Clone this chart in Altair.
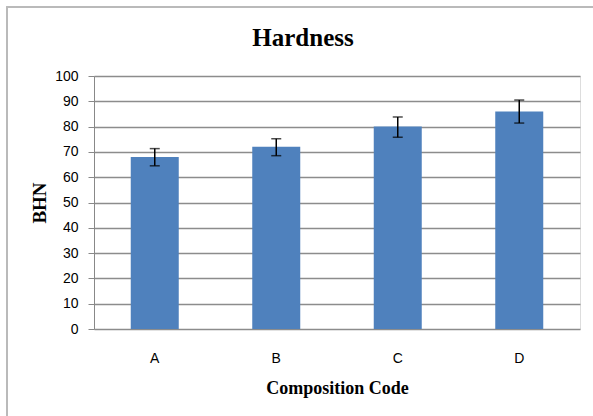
import altair as alt
import pandas as pd

codes = ["A", "B", "C", "D"]
hardness = [68, 72, 80, 86]
err_low = [64.5, 68.5, 75.8, 81.4]
err_high = [71.3, 75.2, 83.8, 90.5]
title_text = ["Hardness"]

df = pd.DataFrame({"code": codes, "bhn": hardness, "lo": err_low, "hi": err_high})

W, H = 486, 253
LABEL_FONT = "Liberation Sans"
TITLE_FONT = "Liberation Serif"

x_axis = alt.Axis(labelAngle=0, ticks=False, domain=False, labelPadding=22,
                  labelFont=LABEL_FONT, labelFontSize=14, labelColor="#000",
                  titleFont=TITLE_FONT, titleFontSize=18, titleFontWeight="bold",
                  titleColor="#000", titleY=64, titleBaseline="alphabetic")
y_axis = alt.Axis(values=list(range(0, 101, 10)), tickSize=6, tickColor="#888",
                  domainColor="#888", gridColor="#8c8c8c", gridWidth=1.3,
                  labelOverlap=False,
                  labelFont=LABEL_FONT, labelFontSize=14, labelColor="#000",
                  labelPadding=10,
                  titleFont=TITLE_FONT, titleFontSize=19, titleFontWeight="bold",
                  titleColor="#000", titleX=-55, titleBaseline="middle")

xs = alt.Scale(paddingInner=0.6, paddingOuter=0.3)
ys = alt.Scale(domain=[0, 100])

def X():
    return alt.X("code:N", title="Composition Code", scale=xs, axis=x_axis)

def Y(field):
    return alt.Y(field, title="BHN", scale=ys, axis=y_axis)

border = alt.Chart(df).mark_rect(fill=None, stroke="#bbbbbb", strokeWidth=1.5).encode(
    x=alt.value(-87), x2=alt.value(W + 30), y=alt.value(-69), y2=alt.value(H + 100)
)

bars = alt.Chart(df).mark_bar(color="#4f81bd", size=48).encode(x=X(), y=Y("bhn:Q"))

rules = alt.Chart(df).mark_rule(color="#000", strokeWidth=1.5).encode(
    x=X(), y=Y("lo:Q"), y2="hi:Q")
caps_lo = alt.Chart(df).mark_tick(color="#000", size=10, thickness=1.5).encode(
    x=X(), y=Y("lo:Q"))
caps_hi = alt.Chart(df).mark_tick(color="#000", size=10, thickness=1.5).encode(
    x=X(), y=Y("hi:Q"))

title = alt.Chart(pd.DataFrame({"t": title_text})).mark_text(
    font=TITLE_FONT, fontSize=25, fontWeight="bold", color="#000",
    align="center", baseline="alphabetic"
).encode(text="t:N", x=alt.value(209), y=alt.value(-30))

chart = alt.layer(border, bars, rules, caps_lo, caps_hi, title).properties(
    width=W, height=H,
    padding={"left": 94, "top": 76, "right": 13, "bottom": 87},
    autosize=alt.AutoSizeParams(type="none"),
).configure_view(stroke=None).configure(background="white")

chart.save("out.html", embed_options={"renderer": "svg", "actions": False})
